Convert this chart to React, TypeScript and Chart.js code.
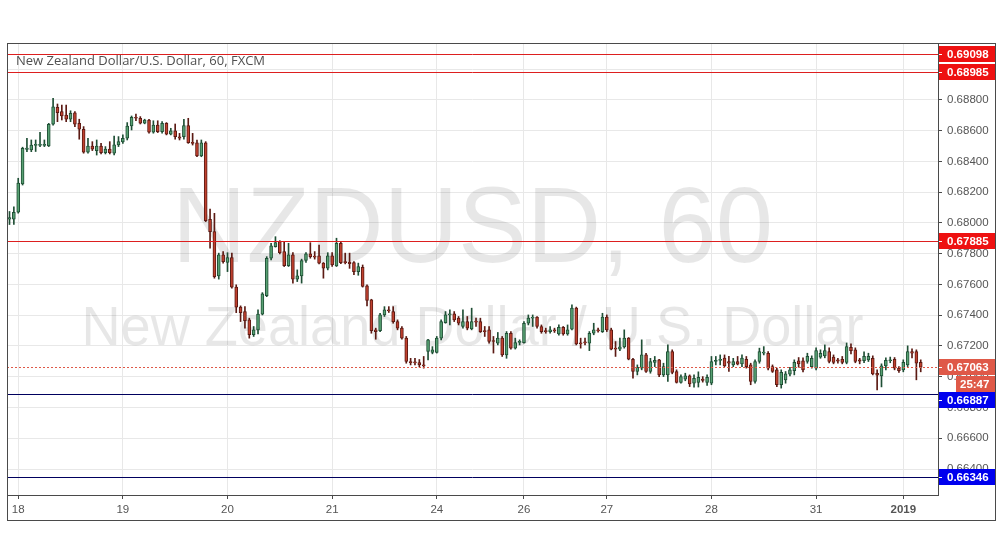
import React, { useEffect, useRef } from "react";
import { Chart, registerables } from "chart.js";

Chart.register(...registerables);

// ---- Data (hourly NZD/USD candles) ----
const opens = [
  0.68025, 0.68025, 0.68070, 0.68254, 0.68478, 0.68475, 0.68505, 0.68505, 0.68505, 0.68501,
  0.68642, 0.68752, 0.68724, 0.68702, 0.68675, 0.68717, 0.68649, 0.68610, 0.68460, 0.68501,
  0.68471, 0.68501, 0.68458, 0.68480, 0.68454, 0.68508, 0.68527, 0.68551, 0.68631, 0.68687,
  0.68681, 0.68649, 0.68670, 0.68590, 0.68637, 0.68594, 0.68649, 0.68577, 0.68600, 0.68561,
  0.68561, 0.68633, 0.68525, 0.68522, 0.68436, 0.68522, 0.68024, 0.67944, 0.67656, 0.67793,
  0.67743, 0.67775, 0.67583, 0.67453, 0.67424, 0.67370, 0.67273, 0.67305, 0.67407, 0.67528,
  0.67771, 0.67846, 0.67879, 0.67814, 0.67723, 0.67793, 0.67635, 0.67656, 0.67756, 0.67799,
  0.67784, 0.67786, 0.67739, 0.67706, 0.67786, 0.67721, 0.67868, 0.67745, 0.67745, 0.67742,
  0.67684, 0.67712, 0.67591, 0.67500, 0.67305, 0.67300, 0.67402, 0.67435, 0.67424, 0.67359,
  0.67316, 0.67251, 0.67099, 0.67093, 0.67092, 0.67077, 0.67164, 0.67158, 0.67158, 0.67251,
  0.67352, 0.67402, 0.67409, 0.67381, 0.67327, 0.67359, 0.67311, 0.67359, 0.67359, 0.67298,
  0.67305, 0.67233, 0.67218, 0.67251, 0.67142, 0.67283, 0.67186, 0.67224, 0.67222, 0.67348,
  0.67381, 0.67388, 0.67327, 0.67300, 0.67294, 0.67303, 0.67279, 0.67322, 0.67279, 0.67309,
  0.67446, 0.67218, 0.67224, 0.67218, 0.67283, 0.67305, 0.67294, 0.67388, 0.67305, 0.67186,
  0.67180, 0.67194, 0.67251, 0.67114, 0.67034, 0.67056, 0.67142, 0.67034, 0.67093, 0.67110,
  0.67012, 0.67012, 0.67164, 0.67034, 0.66963, 0.66985, 0.67006, 0.66959, 0.66963, 0.66985,
  0.66963, 0.66959, 0.67099, 0.67106, 0.67121, 0.67099, 0.67077, 0.67099, 0.67084, 0.67114,
  0.67077, 0.66969, 0.67099, 0.67153, 0.67153, 0.67066, 0.67045, 0.66948, 0.66980, 0.67016,
  0.67040, 0.67104, 0.67104, 0.67099, 0.67066, 0.67056, 0.67128, 0.67136, 0.67164, 0.67128,
  0.67110, 0.67114, 0.67093, 0.67192, 0.67175, 0.67110, 0.67104, 0.67110, 0.67120, 0.67023,
  0.67006, 0.67071, 0.67104, 0.67114, 0.67056, 0.67045, 0.67077, 0.67164, 0.67164, 0.67093,
];

const highs = [
  0.68075, 0.68105, 0.68291, 0.68493, 0.68551, 0.68540, 0.68540, 0.68590, 0.68540, 0.68648,
  0.68811, 0.68774, 0.68767, 0.68767, 0.68730, 0.68724, 0.68675, 0.68627, 0.68551, 0.68529,
  0.68540, 0.68518, 0.68497, 0.68529, 0.68566, 0.68562, 0.68573, 0.68653, 0.68696, 0.68709,
  0.68692, 0.68675, 0.68675, 0.68665, 0.68665, 0.68659, 0.68653, 0.68616, 0.68644, 0.68583,
  0.68675, 0.68681, 0.68583, 0.68540, 0.68540, 0.68529, 0.68090, 0.68063, 0.67804, 0.67814,
  0.67807, 0.67804, 0.67598, 0.67461, 0.67456, 0.67381, 0.67327, 0.67435, 0.67547, 0.67781,
  0.67868, 0.67911, 0.67885, 0.67879, 0.67868, 0.67807, 0.67695, 0.67765, 0.67807, 0.67872,
  0.67814, 0.67857, 0.67743, 0.67807, 0.67807, 0.67901, 0.67875, 0.67804, 0.67804, 0.67749,
  0.67739, 0.67727, 0.67598, 0.67504, 0.67316, 0.67413, 0.67456, 0.67456, 0.67456, 0.67370,
  0.67327, 0.67262, 0.67120, 0.67120, 0.67112, 0.67132, 0.67244, 0.67196, 0.67262, 0.67370,
  0.67424, 0.67435, 0.67424, 0.67392, 0.67435, 0.67392, 0.67446, 0.67381, 0.67381, 0.67327,
  0.67327, 0.67262, 0.67288, 0.67262, 0.67294, 0.67294, 0.67251, 0.67240, 0.67359, 0.67402,
  0.67402, 0.67392, 0.67337, 0.67316, 0.67327, 0.67316, 0.67337, 0.67327, 0.67337, 0.67467,
  0.67453, 0.67251, 0.67251, 0.67294, 0.67348, 0.67316, 0.67413, 0.67402, 0.67316, 0.67229,
  0.67251, 0.67305, 0.67255, 0.67120, 0.67077, 0.67240, 0.67153, 0.67120, 0.67132, 0.67114,
  0.67088, 0.67207, 0.67175, 0.67045, 0.67012, 0.67023, 0.67012, 0.67012, 0.67032, 0.67001,
  0.67012, 0.67132, 0.67132, 0.67142, 0.67142, 0.67132, 0.67120, 0.67132, 0.67142, 0.67132,
  0.67088, 0.67110, 0.67186, 0.67196, 0.67164, 0.67077, 0.67056, 0.67045, 0.67034, 0.67062,
  0.67110, 0.67125, 0.67123, 0.67153, 0.67136, 0.67188, 0.67175, 0.67207, 0.67188, 0.67142,
  0.67120, 0.67132, 0.67220, 0.67214, 0.67188, 0.67120, 0.67162, 0.67153, 0.67136, 0.67045,
  0.67084, 0.67123, 0.67128, 0.67125, 0.67066, 0.67110, 0.67201, 0.67181, 0.67175, 0.67110,
];

const lows = [
  0.67990, 0.67990, 0.68064, 0.68247, 0.68464, 0.68464, 0.68465, 0.68497, 0.68497, 0.68497,
  0.68637, 0.68659, 0.68670, 0.68659, 0.68659, 0.68627, 0.68545, 0.68454, 0.68454, 0.68471,
  0.68442, 0.68449, 0.68449, 0.68449, 0.68442, 0.68497, 0.68518, 0.68540, 0.68605, 0.68665,
  0.68644, 0.68645, 0.68584, 0.68584, 0.68588, 0.68584, 0.68573, 0.68573, 0.68545, 0.68540,
  0.68545, 0.68518, 0.68507, 0.68431, 0.68431, 0.68009, 0.67836, 0.67641, 0.67635, 0.67739,
  0.67684, 0.67576, 0.67417, 0.67359, 0.67316, 0.67251, 0.67262, 0.67279, 0.67402, 0.67521,
  0.67760, 0.67843, 0.67799, 0.67717, 0.67717, 0.67609, 0.67619, 0.67609, 0.67743, 0.67771,
  0.67765, 0.67734, 0.67641, 0.67695, 0.67717, 0.67717, 0.67735, 0.67734, 0.67705, 0.67664,
  0.67660, 0.67583, 0.67461, 0.67283, 0.67244, 0.67294, 0.67392, 0.67418, 0.67348, 0.67305,
  0.67244, 0.67088, 0.67077, 0.67077, 0.67064, 0.67056, 0.67110, 0.67149, 0.67154, 0.67240,
  0.67348, 0.67337, 0.67359, 0.67337, 0.67316, 0.67305, 0.67305, 0.67327, 0.67288, 0.67262,
  0.67218, 0.67154, 0.67207, 0.67132, 0.67120, 0.67180, 0.67180, 0.67207, 0.67218, 0.67337,
  0.67327, 0.67316, 0.67283, 0.67283, 0.67283, 0.67288, 0.67270, 0.67270, 0.67270, 0.67305,
  0.67207, 0.67186, 0.67207, 0.67170, 0.67273, 0.67290, 0.67288, 0.67294, 0.67175, 0.67132,
  0.67170, 0.67186, 0.67110, 0.66991, 0.67012, 0.67045, 0.67028, 0.67023, 0.67066, 0.67001,
  0.67001, 0.66969, 0.67019, 0.66959, 0.66959, 0.66974, 0.66936, 0.66933, 0.66933, 0.66965,
  0.66944, 0.66948, 0.67077, 0.67077, 0.67066, 0.67034, 0.67066, 0.67077, 0.67066, 0.67056,
  0.66948, 0.66959, 0.67088, 0.67142, 0.67045, 0.67028, 0.66936, 0.66926, 0.66958, 0.67006,
  0.67012, 0.67062, 0.67032, 0.67088, 0.67056, 0.67045, 0.67120, 0.67123, 0.67090, 0.67084,
  0.67088, 0.67084, 0.67084, 0.67149, 0.67091, 0.67084, 0.67091, 0.67099, 0.67012, 0.66915,
  0.66934, 0.67045, 0.67091, 0.67045, 0.67028, 0.67032, 0.67066, 0.67123, 0.66980, 0.67032,
];

const closes = [
  0.68035, 0.68070, 0.68259, 0.68486, 0.68488, 0.68507, 0.68510, 0.68508, 0.68507, 0.68642,
  0.68756, 0.68717, 0.68696, 0.68675, 0.68713, 0.68642, 0.68610, 0.68460, 0.68501, 0.68480,
  0.68501, 0.68458, 0.68480, 0.68458, 0.68508, 0.68530, 0.68551, 0.68631, 0.68687, 0.68681,
  0.68649, 0.68670, 0.68590, 0.68637, 0.68594, 0.68649, 0.68577, 0.68600, 0.68561, 0.68551,
  0.68633, 0.68522, 0.68518, 0.68436, 0.68522, 0.68015, 0.67944, 0.67651, 0.67793, 0.67749,
  0.67775, 0.67583, 0.67453, 0.67417, 0.67365, 0.67273, 0.67305, 0.67407, 0.67539, 0.67771,
  0.67851, 0.67872, 0.67807, 0.67723, 0.67793, 0.67635, 0.67656, 0.67756, 0.67799, 0.67781,
  0.67778, 0.67739, 0.67706, 0.67786, 0.67727, 0.67868, 0.67742, 0.67742, 0.67735, 0.67684,
  0.67716, 0.67587, 0.67496, 0.67300, 0.67294, 0.67402, 0.67435, 0.67428, 0.67359, 0.67316,
  0.67251, 0.67099, 0.67092, 0.67090, 0.67077, 0.67071, 0.67240, 0.67175, 0.67251, 0.67359,
  0.67402, 0.67409, 0.67370, 0.67348, 0.67359, 0.67316, 0.67359, 0.67355, 0.67294, 0.67294,
  0.67229, 0.67229, 0.67251, 0.67142, 0.67283, 0.67186, 0.67222, 0.67229, 0.67348, 0.67381,
  0.67388, 0.67327, 0.67294, 0.67294, 0.67305, 0.67298, 0.67322, 0.67279, 0.67305, 0.67446,
  0.67214, 0.67214, 0.67220, 0.67283, 0.67305, 0.67298, 0.67388, 0.67305, 0.67180, 0.67180,
  0.67194, 0.67251, 0.67114, 0.67034, 0.67062, 0.67142, 0.67034, 0.67099, 0.67106, 0.67012,
  0.67066, 0.67164, 0.67028, 0.66963, 0.67001, 0.67006, 0.66954, 0.66990, 0.66997, 0.66976,
  0.66997, 0.67099, 0.67106, 0.67114, 0.67071, 0.67088, 0.67099, 0.67082, 0.67121, 0.67066,
  0.66969, 0.67099, 0.67164, 0.67160, 0.67056, 0.67034, 0.66948, 0.67028, 0.67019, 0.67045,
  0.67093, 0.67084, 0.67045, 0.67132, 0.67120, 0.67170, 0.67153, 0.67170, 0.67099, 0.67093,
  0.67101, 0.67093, 0.67197, 0.67170, 0.67099, 0.67101, 0.67132, 0.67132, 0.67019, 0.67010,
  0.67071, 0.67106, 0.67110, 0.67056, 0.67040, 0.67093, 0.67164, 0.67153, 0.67088, 0.67063,
];

// Day separators: candle index where each day label sits
const dayTickIndex = [2, 26, 50, 74, 98, 118, 137, 161, 185, 205];
const dayTickLabels = ["18", "19", "20", "21", "24", "26", "27", "28", "31", "2019"];

// Price axis
const priceTicks = [0.664, 0.666, 0.668, 0.670, 0.672, 0.674, 0.676, 0.678, 0.680, 0.682, 0.684, 0.686, 0.688, 0.690];
const priceMin = 0.662309;
const priceMax = 0.691707;
const indexMin = -0.573;
const indexMax = 212.96;

// Horizontal levels
const redLevels = [0.69098, 0.68985, 0.67885];
const blueLevels = [0.66887, 0.66346];
const lastPrice = 0.67063;
const countdown = "25:47";

const titleText = "New Zealand Dollar/U.S. Dollar, 60, FXCM";
const watermarkMain = "NZDUSD, 60";
const watermarkSub = "New Zealand Dollar / U.S. Dollar";

// ---- Styles ----
const UP_FILL = "#57a072";
const UP_LINE = "#1f4f35";
const DOWN_FILL = "#c0412f";
const DOWN_LINE = "#5b1a13";
const GRID = "#e8e8e8";
const AXIS_TEXT = "#555555";
const FRAME = "#4a4a4a";
const RED_LINE = "#dd1f1f";
const RED_BOX = "#ee1111";
const BLUE_LINE = "#00005e";
const BLUE_BOX = "#0000ee";
const PRICE_COL = "#df5948";
const FONT = '"Liberation Sans", Arial, sans-serif';

function drawFitted(ctx: CanvasRenderingContext2D, text: string, font: string, cx: number, baseline: number, width: number) {
  ctx.font = font;
  const w = ctx.measureText(text).width;
  ctx.save();
  ctx.translate(cx, baseline);
  ctx.scale(width / w, 1);
  ctx.textAlign = "center";
  ctx.textBaseline = "alphabetic";
  ctx.fillText(text, 0, 0);
  ctx.restore();
}

const overlayPlugin = {
  id: "overlay",
  beforeDatasetsDraw(chart: any) {
    const { ctx, chartArea: a } = chart;
    ctx.save();
    ctx.beginPath();
    ctx.rect(a.left, a.top, a.right - a.left, a.bottom - a.top);
    ctx.clip();
    ctx.fillStyle = "rgba(0,0,0,0.095)";
    const cx = (a.left + a.right) / 2;
    drawFitted(ctx, watermarkMain, `108px ${FONT}`, cx, a.top + 219, 601);
    drawFitted(ctx, watermarkSub, `56px ${FONT}`, cx, a.top + 302, 782);
    ctx.restore();
  },
  afterDatasetsDraw(chart: any) {
    const { ctx, chartArea: a } = chart;
    const ys = chart.scales.y;
    ctx.save();
    ctx.beginPath();
    ctx.rect(a.left, a.top, a.right - a.left, a.bottom - a.top);
    ctx.clip();
    ctx.lineWidth = 1;
    const hline = (v: number, color: string, dash: number[]) => {
      const py = Math.round(ys.getPixelForValue(v)) + 0.5;
      ctx.strokeStyle = color;
      ctx.setLineDash(dash);
      ctx.beginPath();
      ctx.moveTo(a.left, py);
      ctx.lineTo(a.right, py);
      ctx.stroke();
    };
    redLevels.forEach((v) => hline(v, RED_LINE, []));
    blueLevels.forEach((v) => hline(v, BLUE_LINE, []));
    hline(lastPrice, PRICE_COL, [2, 2]);
    ctx.restore();
  },
  afterDraw(chart: any) {
    const { ctx, chartArea: a } = chart;
    const ys = chart.scales.y;
    const xs = chart.scales.x;
    const boxRight = ys.right;
    ctx.save();

    // label boxes on the price axis
    type Box = { v: number; text: string; fill: string; x0: number; tick: boolean };
    const items: Box[] = [];
    redLevels.forEach((v) => items.push({ v, text: v.toFixed(5), fill: RED_BOX, x0: a.right, tick: true }));
    items.push({ v: lastPrice, text: lastPrice.toFixed(5), fill: PRICE_COL, x0: a.right, tick: true });
    items.push({ v: NaN, text: countdown, fill: PRICE_COL, x0: a.right + 18, tick: false });
    blueLevels.forEach((v) => items.push({ v, text: v.toFixed(5), fill: BLUE_BOX, x0: a.right, tick: true }));
    const H = 16;
    let prevBottom = -1e9;
    ctx.font = `bold 11.5px ${FONT}`;
    ctx.textBaseline = "middle";
    ctx.textAlign = "left";
    items.forEach((b) => {
      let top: number;
      if (isNaN(b.v)) {
        top = prevBottom + 1;
      } else {
        const py = ys.getPixelForValue(b.v);
        top = Math.max(Math.round(py - H / 2), prevBottom);
      }
      ctx.fillStyle = b.fill;
      ctx.fillRect(b.x0, top, boxRight - b.x0, H);
      ctx.fillStyle = "#ffffff";
      ctx.fillText(b.text, b.x0 === a.right ? a.right + 9 : b.x0 + 4, top + H / 2 + 0.5);
      if (b.tick) {
        ctx.fillRect(a.right, top + H / 2, 4, 1);
      }
      prevBottom = top + H;
    });

    // title
    ctx.fillStyle = "#505050";
    ctx.font = '13px "Open Sans", sans-serif';
    ctx.textBaseline = "middle";
    ctx.textAlign = "left";
    ctx.fillText(titleText, a.left + 9, 61);

    // frame
    ctx.strokeStyle = FRAME;
    ctx.lineWidth = 1;
    ctx.setLineDash([]);
    const L = a.left + 0.5;
    const T = a.top + 0.5;
    const R = boxRight + 0.5;
    const B = xs.bottom + 0.5;
    ctx.strokeRect(L, T, R - L, B - T);
    ctx.beginPath();
    ctx.moveTo(a.right + 0.5, a.top);
    ctx.lineTo(a.right + 0.5, a.bottom + 1);
    ctx.moveTo(a.left, a.bottom + 0.5);
    ctx.lineTo(a.right + 1, a.bottom + 0.5);
    ctx.stroke();
    ctx.restore();
  },
};

export default function App() {
  const ref = useRef<HTMLCanvasElement | null>(null);

  useEffect(() => {
    if (!ref.current) return;
    const idx = opens.map((_, i) => i);
    const isUp = idx.map((i) => closes[i] >= opens[i]);
    const labelMap: Record<number, string> = {};
    dayTickIndex.forEach((v, k) => (labelMap[v] = dayTickLabels[k]));

    const chart = new Chart(ref.current, {
      type: "bar",
      data: {
        datasets: [
          {
            label: "wicks",
            data: idx.map((i) => ({ x: i, y: [lows[i], highs[i]] })) as any,
            backgroundColor: idx.map((i) => (isUp[i] ? UP_LINE : DOWN_LINE)),
            borderWidth: 0,
            barThickness: 1,
            grouped: false,
            order: 2,
          } as any,
          {
            label: "bodies",
            data: idx.map((i) => ({ x: i, y: [opens[i], closes[i]] })) as any,
            backgroundColor: idx.map((i) => (isUp[i] ? UP_FILL : DOWN_FILL)),
            borderColor: idx.map((i) => (isUp[i] ? UP_LINE : DOWN_LINE)),
            borderWidth: 1,
            borderSkipped: false,
            barThickness: 3,
            minBarLength: 1,
            grouped: false,
            order: 1,
          } as any,
        ],
      },
      options: {
        animation: false,
        responsive: false,
        devicePixelRatio: 1,
        events: [],
        layout: { padding: { left: 7, top: 43, right: 7, bottom: 37 }, autoPadding: false } as any,
        plugins: { legend: { display: false }, tooltip: { enabled: false } },
        scales: {
          x: {
            type: "linear",
            position: "bottom",
            min: indexMin,
            max: indexMax,
            offset: false,
            grid: { color: GRID, offset: false, tickLength: 4, tickColor: FRAME, drawTicks: true } as any,
            border: { display: false },
            ticks: {
              autoSkip: false,
              maxRotation: 0,
              padding: 4,
              color: AXIS_TEXT,
              font: (c: any) => ({
                family: FONT,
                size: 11.5,
                weight: c.tick && labelMap[c.tick.value] === "2019" ? "bold" : "normal",
              }),
              callback: (v: any) => labelMap[v as number] ?? "",
            },
            afterBuildTicks: (s: any) => {
              s.ticks = dayTickIndex.map((v) => ({ value: v }));
            },
            afterFit: (s: any) => {
              s.height = 25;
            },
          },
          y: {
            type: "linear",
            position: "right",
            min: priceMin,
            max: priceMax,
            beginAtZero: false,
            grid: { color: GRID, tickLength: 4, tickColor: FRAME } as any,
            border: { display: false },
            ticks: {
              padding: 5,
              color: AXIS_TEXT,
              font: { family: FONT, size: 11.5 },
              callback: (v: any) => Number(v).toFixed(5),
            },
            afterBuildTicks: (s: any) => {
              s.ticks = priceTicks.map((v) => ({ value: v }));
            },
            afterFit: (s: any) => {
              s.width = 57;
            },
          },
        },
      },
      plugins: [overlayPlugin],
    });
    return () => chart.destroy();
  }, []);

  return (
    <div style={{ position: "absolute", left: 0, top: 0, width: 1002, height: 557, background: "#ffffff" }}>
      <canvas ref={ref} width={1002} height={557} style={{ display: "block", width: 1002, height: 557 }} />
    </div>
  );
}
